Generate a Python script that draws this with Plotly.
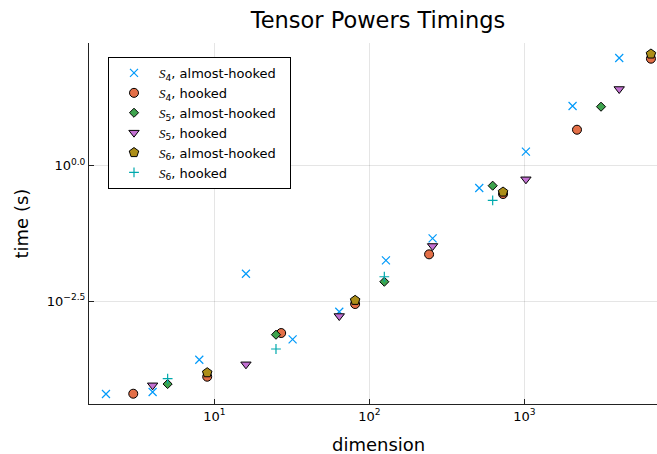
import plotly.graph_objects as go

# ---- data (dimension, log10 of time in seconds) ----
s4_ah_dim = [2, 4, 8, 16, 32, 64, 128, 256, 512, 1024, 2048, 4096]
s4_ah_logt = [-4.218, -4.181, -3.584, -1.995, -3.207, -2.697, -1.748, -1.341, -0.412, 0.259, 1.103, 1.990]

s4_h_dim = [3, 9, 27, 81, 243, 729, 2187, 6561]
s4_h_logt = [-4.212, -3.898, -3.091, -2.555, -1.637, -0.523, 0.665, 1.977]

s5_ah_dim = [5, 25, 125, 625, 3125]
s5_ah_logt = [-4.033, -3.122, -2.143, -0.369, 1.090]

s5_h_dim = [4, 16, 64, 256, 1024, 4096]
s5_h_logt = [-4.057, -3.669, -2.777, -1.483, -0.251, 1.417]

s6_ah_dim = [9, 81, 729, 6561]
s6_ah_logt = [-3.824, -2.487, -0.486, 2.064]

s6_h_dim = [5, 25, 125, 625]
s6_h_logt = [-3.935, -3.386, -2.051, -0.639]

x_tickvals = [10, 100, 1000]
x_ticktext = ["10<sup>1</sup>", "10<sup>2</sup>", "10<sup>3</sup>"]
y_tickvals = [1.0, 10 ** -2.5]
y_ticktext = ["10<sup>0.0</sup>", "10<sup>\u22122.5</sup>"]

def lbl(n, kind):
    return ("<span style=\"font-family:'Liberation Serif'\"><i>S</i></span>"
            "<sub>%d</sub>, %s&nbsp;&nbsp;" % (n, kind))

series = [
    (s4_ah_dim, s4_ah_logt, lbl(4, "almost-hooked"), "x-thin", "#009AFA", 8),
    (s4_h_dim, s4_h_logt, lbl(4, "hooked"), "circle", "#E36F47", 9),
    (s5_ah_dim, s5_ah_logt, lbl(5, "almost-hooked"), "diamond", "#3EA44E", 7),
    (s5_h_dim, s5_h_logt, lbl(5, "hooked"), "triangle-down", "#C371D2", 9),
    (s6_ah_dim, s6_ah_logt, lbl(6, "almost-hooked"), "pentagon", "#AC8E18", 10),
    (s6_h_dim, s6_h_logt, lbl(6, "hooked"), "cross-thin", "#00A9AD", 7),
]

fig = go.Figure()
for dims, logt, name, sym, col, sz in series:
    thin = sym.endswith("-thin")
    fig.add_trace(go.Scatter(
        x=dims, y=[10 ** v for v in logt], mode="markers", name=name,
        marker=dict(symbol=sym, size=sz, color=col,
                    line=dict(color=col if thin else "black", width=1.2 if thin else 1)),
    ))

W, H = 657, 454
L, R, T, B = 89, 0, 43, 50

axis_common = dict(
    type="log", showline=True, linecolor="#222", linewidth=1,
    ticks="inside", ticklen=5, tickcolor="#222", tickwidth=1,
    showgrid=True, gridcolor="rgba(0,0,0,0.1)", gridwidth=1,
    zeroline=False, mirror=False,
    tickfont=dict(family="DejaVu Sans", size=13, color="black"),
)

fig.update_layout(
    width=W, height=H,
    margin=dict(l=L, r=R, t=T, b=B, pad=0),
    paper_bgcolor="white", plot_bgcolor="white",
    font=dict(family="DejaVu Sans", color="black"),
    title=dict(text="Tensor Powers Timings", x=(378 - L) / (W - L), xref="paper",
               xanchor="center", y=(H - 20) / H, yref="container", yanchor="middle",
               font=dict(family="DejaVu Sans", size=22.5, color="black")),
    xaxis=dict(axis_common, range=[0.1916, 3.856], tickvals=x_tickvals, ticktext=x_ticktext),
    yaxis=dict(axis_common, range=[-4.402, 2.267], tickvals=y_tickvals, ticktext=y_ticktext),
    legend=dict(x=(108 - L) / (W - L), y=(404 - 57) / (H - T - B), xanchor="left", yanchor="top",
                bordercolor="black", borderwidth=1, bgcolor="white", itemwidth=40,
                font=dict(family="DejaVu Sans", size=13, color="black")),
    annotations=[
        dict(text="dimension", xref="paper", yref="paper", x=(378 - L) / (W - L),
             y=(404 - 444) / (H - T - B), xanchor="center", yanchor="middle", showarrow=False,
             font=dict(family="DejaVu Sans", size=18, color="black")),
        dict(text="time (s)", xref="paper", yref="paper", x=(21 - L) / (W - L), y=0.5,
             xanchor="center", yanchor="middle", textangle=-90, showarrow=False,
             font=dict(family="DejaVu Sans", size=18, color="black")),
    ],
)

fig.write_html("out.html", config={"displayModeBar": False},
               post_script="document.body.style.margin='0';document.body.style.padding='0';")
